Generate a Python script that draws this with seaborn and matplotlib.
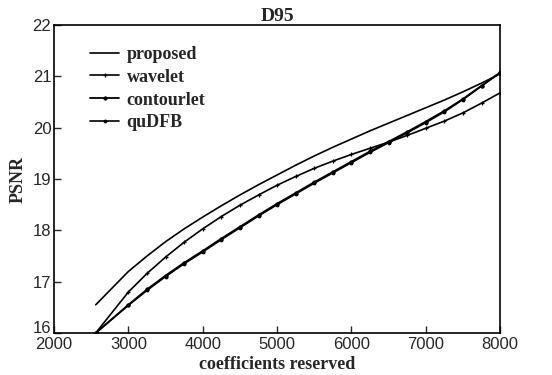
import numpy as np
import pandas as pd
import matplotlib
matplotlib.use('Agg')
import matplotlib.pyplot as plt
import matplotlib.transforms as mtransforms
import seaborn as sns

# coefficients reserved (x axis)
coeffs = [2560, 3000, 3250, 3500, 3750, 4000, 4250, 4500, 4750, 5000, 5250,
          5500, 5750, 6000, 6250, 6500, 6750, 7000, 7250, 7500, 7750, 8000]

# PSNR
proposed = [16.55, 17.20, 17.50, 17.78, 18.03, 18.26, 18.48, 18.69, 18.89, 19.08, 19.27,
            19.45, 19.62, 19.78, 19.94, 20.09, 20.24, 20.39, 20.54, 20.70, 20.87, 21.05]
wavelet = [16.00, 16.80, 17.16, 17.48, 17.77, 18.03, 18.27, 18.49, 18.69, 18.88, 19.05,
           19.21, 19.35, 19.48, 19.60, 19.72, 19.85, 19.99, 20.13, 20.29, 20.48, 20.68]
contourlet = [16.00, 16.55, 16.85, 17.12, 17.37, 17.60, 17.84, 18.07, 18.30, 18.52, 18.73,
              18.94, 19.14, 19.34, 19.54, 19.73, 19.92, 20.12, 20.33, 20.56, 20.82, 21.07]
qudfb = [16.00, 16.54, 16.83, 17.10, 17.35, 17.58, 17.82, 18.05, 18.28, 18.50, 18.71,
         18.92, 19.12, 19.32, 19.52, 19.71, 19.90, 20.10, 20.31, 20.55, 20.81, 21.08]

sns.set_style('ticks')
plt.rcParams['font.family'] = ['Liberation Serif', 'DejaVu Serif']

fig = plt.figure(figsize=(5.52, 3.75), dpi=100)
ax = fig.add_axes([0.098, 0.112, 0.808, 0.821])

sns.lineplot(x=coeffs, y=proposed, ax=ax, color='k', lw=1.2, label='proposed')
sns.lineplot(x=coeffs, y=wavelet, ax=ax, color='k', lw=1.2, marker='+', ms=3,
             mew=0.9, mec='k', label='wavelet')
sns.lineplot(x=coeffs, y=contourlet, ax=ax, color='k', lw=1.3, marker='o', ms=2.3,
             mec='k', mfc='k', label='contourlet')
sns.lineplot(x=coeffs, y=qudfb, ax=ax, color='k', lw=1.2, marker='o', ms=2.0,
             mec='k', mfc='k', label='quDFB')

ax.set_xlim(2000, 8000)
ax.set_ylim(16, 22)
ax.set_xticks(range(2000, 8001, 1000))
ax.set_yticks(range(16, 23))
ax.tick_params(direction='in', length=5, width=1, top=False, right=False,
               labelsize=12)
ax.tick_params(axis='x', pad=3)
ax.tick_params(axis='y', pad=2)
for lab in ax.get_xticklabels() + ax.get_yticklabels():
    lab.set_family('Liberation Sans')
# bottom y label sits just above the 2000 label in the original
shift = mtransforms.ScaledTranslation(0, 4 / 72, fig.dpi_scale_trans)
lab16 = ax.get_yticklabels()[0]
lab16.set_transform(lab16.get_transform() + shift)
for sp in ax.spines.values():
    sp.set_visible(True)
    sp.set_linewidth(1.2)
    sp.set_color('k')

ax.set_title('D95', fontsize=14, fontweight='bold', pad=2)
ax.set_xlabel('coefficients reserved', fontsize=13, fontweight='bold', labelpad=3)
ax.set_ylabel('PSNR', fontsize=13, fontweight='bold', labelpad=4)

leg = ax.legend(loc='upper left', frameon=False, bbox_to_anchor=(0.045, 0.985),
                prop={'family': 'Liberation Serif', 'weight': 'bold', 'size': 13},
                handlelength=1.6, handletextpad=0.4, labelspacing=0.32)

fig.savefig('out.png', dpi=100)
